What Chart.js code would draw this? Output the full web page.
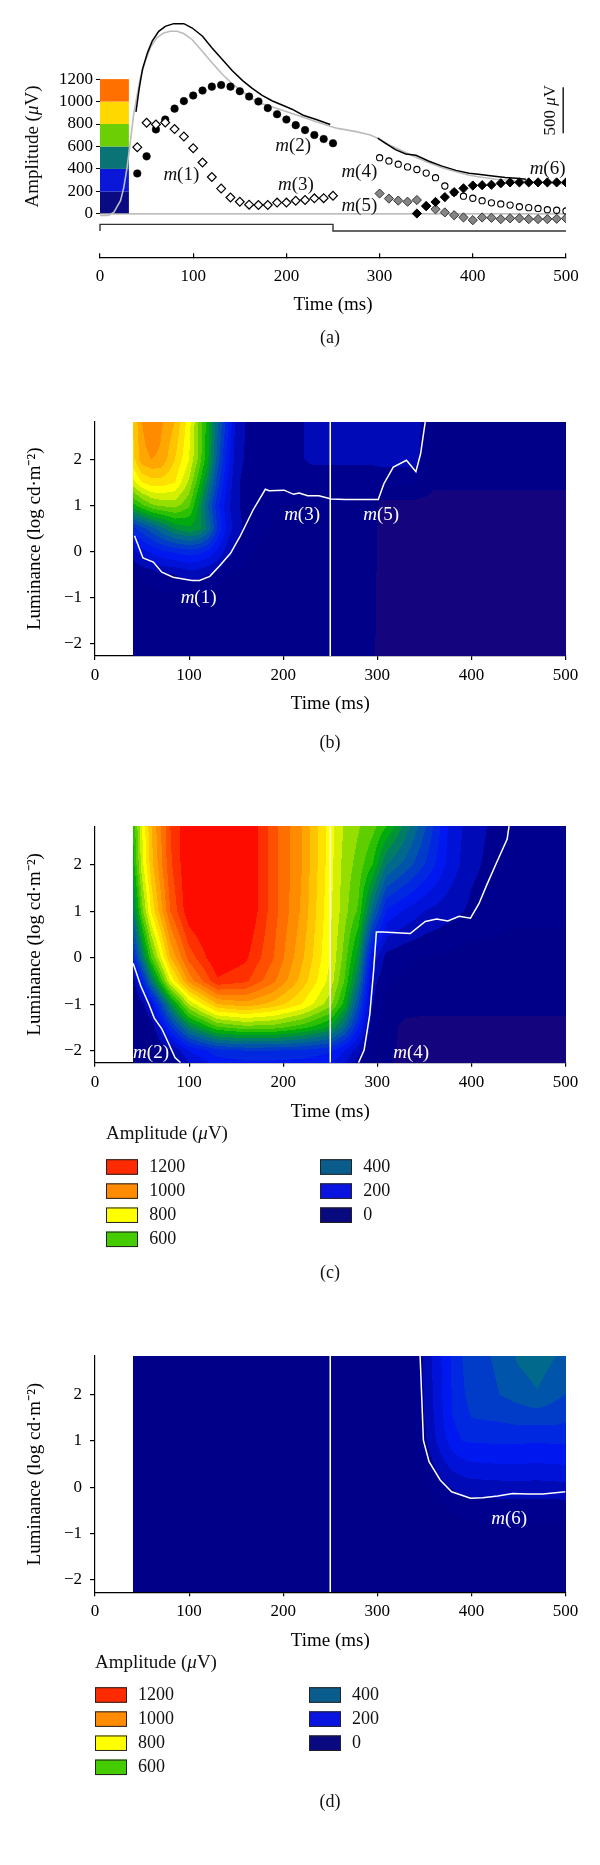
<!DOCTYPE html>
<html>
<head>
<meta charset="utf-8">
<script src="https://cdn.jsdelivr.net/npm/chart.js@4.4.0/dist/chart.umd.min.js"></script>
<style>
body { margin: 0; background: #fff; }
#wrap { position: relative; width: 600px; height: 1865px; }
#wrap canvas { position: absolute; left: 0; top: 0; }
</style>
</head>
<body>
<div id="wrap">
  <canvas id="chartA" width="600" height="1865"></canvas>
  <canvas id="chartB" width="600" height="1865"></canvas>
  <canvas id="chartC" width="600" height="1865"></canvas>
  <canvas id="chartD" width="600" height="1865"></canvas>
</div>
<script>
const SERIF = "'Liberation Serif', 'Times New Roman', serif";

// ---- tick labels
const timeTicks = [0, 100, 200, 300, 400, 500];
const ampTicks = [0, 200, 400, 600, 800, 1000, 1200];
const lumTicks = [-2, -1, 0, 1, 2];

// ---- panel (a): component amplitudes (uV) vs time (ms)
const tEarly = [40, 50, 60, 70, 80, 90, 100, 110, 120, 130, 140, 150, 160, 170, 180, 190, 200, 210, 220, 230, 240, 250];
const m13Amp = [594, 811, 796, 814, 755, 688, 585, 457, 328, 225, 146, 108, 82, 79, 79, 100, 100, 117, 123, 138, 140, 161];
const m2Amp = [360, 512, 752, 840, 937, 1004, 1054, 1098, 1133, 1147, 1133, 1092, 1045, 1001, 942, 887, 840, 790, 746, 702, 667, 629];
const tLate = [300, 310, 320, 330, 340, 350, 360, 370, 380, 390, 400, 410, 420, 430, 440, 450, 460, 470, 480, 490, 500];
const m4Amp = [500, 471, 442, 418, 395, 363, 322, 248, 190, 157, 139, 117, 98, 88, 78, 63, 55, 48, 37, 32, 26];
const m5Amp = [181, 136, 118, 108, 123, 69, 41, 13, -12, -32, -56, -32, -35, -47, -40, -40, -47, -47, -47, -44, -40];
const tM6 = [340, 350, 360, 370, 380, 390, 400, 410, 420, 430, 440, 450, 460, 470, 480, 490, 500];
const m6Amp = [3, 69, 106, 149, 193, 227, 252, 255, 259, 272, 280, 280, 280, 280, 280, 280, 280];

// recorded response (black) and model sum (grey)
const ergT1 = [38.6, 42, 45.6, 51, 56, 63, 70, 79, 90, 99, 110, 120, 131, 142, 153, 163, 174, 185, 196, 206, 218, 232, 247];
const ergAmp1 = [908, 1113, 1289, 1436, 1538, 1626, 1670, 1694, 1694, 1655, 1582, 1480, 1377, 1275, 1187, 1120, 1055, 1005, 967, 932, 878, 840, 796];
const ergT2 = [298, 306, 317, 328, 339, 353, 367, 382, 396, 406, 421, 435, 450, 457];
const ergAmp2 = [674, 630, 572, 533, 522, 469, 425, 387, 361, 352, 337, 323, 314, 308];
const modelT = [0, 9, 15, 18, 22, 25.5, 29, 32.6, 36, 39.8, 43, 48.7, 54, 61, 68.4, 75.5, 82.6, 89.8, 98.7, 109.5, 120, 131, 142, 152.5, 163, 174, 185, 195.7, 206, 218, 232, 247, 255, 275, 290, 298, 310, 325, 339, 353, 367, 382, 396, 411, 425, 439, 454, 472, 490, 500];
const modelAmp = [-15, -15, 15, 59, 117, 234, 410, 644, 879, 1055, 1201, 1362, 1480, 1567, 1611, 1626, 1626, 1606, 1553, 1450, 1348, 1245, 1157, 1090, 1025, 981, 952, 923, 894, 860, 820, 781, 761, 732, 703, 674, 615, 557, 504, 454, 410, 375, 343, 323, 308, 299, 293, 284, 270, 264];
const zeroT = [0, 500];
const zeroAmp = [0, 0];
const stimT = [0, 0, 250, 250, 500];
const stimAmp = [-153, -94, -94, -153, -153];
const scaleBarT = [497, 497];
const scaleBarAmp = [717, 1127];

// colour key at the left of panel (a)
const cbarT = [0, 31];
const cbarLevels = [0, 200, 400, 600, 800, 1000, 1200];
const cbarColors = ['#0a0a82', '#0a16d8', '#0a7376', '#6ccf06', '#ffd800', '#ff7000'];

// ---- contour maps: amplitude (uV) on a time x luminance grid
const timesB = [40, 50, 60, 70, 85, 100, 110, 120, 130, 140, 150, 170, 200, 230, 260, 295, 305, 340, 360, 400, 450, 500];
const lumsB = [-2.27, -1, -0.5, 0, 0.5, 1, 1.5, 2, 2.82];
const ampB = [
  [10, 10, 10, 10, 10, 10, 10, 10, 10, 10, 10, 10, 10, 10, 10, 10, -30, -30, -30, -30, -30, -30],
  [20, 20, 30, 30, 40, 40, 40, 30, 30, 20, 20, 20, 20, 20, 20, 20, -30, -30, -30, -30, -30, -30],
  [40, 60, 70, 90, 100, 120, 115, 100, 80, 50, 40, 30, 20, 20, 20, 20, -30, -30, -30, -30, -30, -30],
  [130, 180, 210, 240, 260, 280, 270, 240, 190, 130, 90, 50, 30, 30, 30, 30, -30, -30, -30, -30, -30, -30],
  [280, 330, 380, 430, 510, 540, 520, 440, 300, 190, 120, 60, 40, 40, 40, 30, -30, -30, -30, -30, -30, -30],
  [580, 640, 690, 710, 720, 660, 540, 400, 270, 170, 110, 60, 50, 50, 50, 40, -20, -20, -20, -20, -20, -20],
  [780, 850, 880, 880, 850, 740, 620, 480, 330, 200, 110, 60, 60, 70, 70, 70, 60, 60, 10, 10, 10, 10],
  [880, 980, 1000, 990, 900, 800, 690, 560, 380, 240, 120, 70, 70, 110, 110, 110, 120, 120, 20, 10, 10, 10],
  [900, 1000, 1050, 1010, 950, 820, 700, 570, 420, 280, 130, 70, 70, 110, 110, 110, 140, 140, 20, 20, 20, 20]
];
const timesC = [40, 50, 60, 80, 100, 130, 160, 190, 220, 250, 265, 280, 295, 310, 330, 350, 375, 400, 450, 500];
const lumsC = [-2.26, -2, -1.5, -1, -0.5, 0, 1, 2, 2.83];
const ampC = [
  [0, 0, 10, 50, 150, 220, 240, 240, 230, 210, 160, 80, 20, 10, -20, -20, -20, -20, -20, -20],
  [0, 10, 30, 90, 200, 280, 300, 300, 290, 260, 200, 120, 40, 20, -20, -20, -20, -20, -20, -20],
  [10, 30, 60, 280, 480, 640, 680, 670, 620, 540, 420, 250, 60, 30, -20, -20, -20, -20, -20, -20],
  [20, 80, 180, 500, 760, 950, 980, 930, 850, 720, 580, 350, 100, 40, 30, 20, 20, 20, 20, 20],
  [60, 250, 450, 800, 1020, 1190, 1160, 1060, 930, 780, 650, 450, 120, 60, 40, 30, 30, 20, 20, 20],
  [250, 450, 650, 950, 1120, 1250, 1210, 1100, 960, 800, 680, 520, 180, 80, 60, 50, 40, 30, 30, 30],
  [450, 680, 860, 1100, 1240, 1300, 1260, 1120, 990, 810, 720, 640, 420, 240, 190, 150, 120, 90, 60, 60],
  [560, 780, 930, 1140, 1250, 1300, 1260, 1120, 1000, 820, 730, 680, 600, 450, 380, 300, 190, 110, 60, 60],
  [600, 800, 950, 1150, 1250, 1300, 1260, 1120, 1000, 820, 745, 705, 670, 600, 480, 360, 200, 120, 60, 60]
];
const timesD = [40, 340, 350, 360, 370, 380, 390, 400, 430, 450, 470, 490, 500];
const lumsD = [-2.27, -1, -0.5, 0, 0.5, 1, 1.5, 2, 2.83];
const ampD = [
  [20, 20, 20, 20, 20, 20, 20, 20, 20, 20, 20, 20, 20],
  [20, 20, 20, 20, 20, 25, 30, 30, 30, 30, 30, 30, 30],
  [20, 20, 25, 30, 40, 55, 62, 68, 70, 70, 70, 70, 72],
  [20, 25, 40, 60, 85, 105, 118, 125, 130, 132, 130, 133, 136],
  [20, 30, 60, 100, 140, 170, 185, 195, 200, 200, 198, 200, 205],
  [20, 35, 85, 140, 185, 225, 250, 255, 258, 258, 255, 258, 258],
  [20, 40, 100, 150, 200, 250, 280, 300, 310, 320, 320, 320, 310],
  [20, 40, 105, 155, 205, 255, 290, 320, 350, 370, 395, 360, 350],
  [20, 40, 110, 160, 210, 260, 300, 330, 360, 410, 430, 400, 360]
];

// white boundary lines (time ms, luminance)
const edgeBT = [42, 51, 62, 71, 83, 103, 111, 122, 132, 144, 154, 168, 181, 185, 201, 211, 217, 226, 238, 251, 266, 301, 307, 317, 331, 341, 346, 351];
const edgeBL = [0.34, -0.14, -0.23, -0.45, -0.56, -0.63, -0.63, -0.54, -0.32, -0.04, 0.32, 0.9, 1.35, 1.32, 1.33, 1.24, 1.27, 1.21, 1.21, 1.14, 1.13, 1.13, 1.47, 1.83, 1.98, 1.73, 2.12, 2.82];
const edgeC1T = [40.5, 48.7, 57, 63, 71, 79, 85, 91];
const edgeC1L = [-0.12, -0.61, -0.99, -1.3, -1.53, -1.88, -2.15, -2.26];
const edgeC2T = [280, 286, 292, 296, 299, 306, 335, 351, 363, 375, 387, 399, 408, 416, 426, 438, 440];
const edgeC2L = [-2.26, -1.99, -1.22, -0.3, 0.55, 0.55, 0.52, 0.78, 0.83, 0.79, 0.89, 0.85, 1.16, 1.55, 2.01, 2.55, 2.83];
const edgeDT = [345.5, 349, 355, 367, 379, 399, 412, 428, 444, 460, 476, 500];
const edgeDL = [2.83, 1.01, 0.55, 0.15, -0.1, -0.24, -0.23, -0.19, -0.14, -0.15, -0.15, -0.1];
const offsetT = [250, 250];

// legend of the maps
const legendLevels = [1200, 1000, 800, 600, 400, 200, 0];
const legendColors = ['#ff2a00', '#ff8c00', '#ffff00', '#44cc00', '#0a5c8c', '#0a14e0', '#0a0a80'];

// filled contour bands, 50 uV wide
const bandLows = [-100, -50, 0, 50, 100, 150, 200, 250, 300, 350, 400, 450, 500, 550, 600, 650, 700, 750, 800, 850, 900, 950, 1000, 1050, 1100, 1150, 1200];
const bandRGB = [
  [26, 4, 122], [20, 4, 126], [0, 0, 136], [0, 0, 142], [0, 10, 182], [0, 18, 215], [0, 24, 240], [0, 40, 225],
  [0, 60, 200], [0, 85, 170], [0, 105, 140], [0, 125, 100], [0, 148, 55], [0, 170, 15], [45, 192, 0], [95, 206, 0],
  [150, 222, 0], [210, 240, 0], [255, 255, 0], [255, 225, 0], [255, 196, 0], [255, 166, 0], [255, 140, 0],
  [255, 110, 0], [255, 80, 0], [255, 48, 0], [255, 12, 0]
];

const pts = (xs, ys) => xs.map((x, i) => ({ x: x, y: ys[i] }));

function locate(arr, v) {
  const n = arr.length;
  if (v <= arr[0]) return [0, 0];
  if (v >= arr[n - 1]) return [n - 2, 1];
  let i = 0;
  while (arr[i + 1] < v) i++;
  return [i, (v - arr[i]) / (arr[i + 1] - arr[i])];
}

function sample(times, lums, grid, t, l) {
  const [i, fx] = locate(times, t);
  const [j, fy] = locate(lums, l);
  const lo = grid[j][i] * (1 - fx) + grid[j][i + 1] * fx;
  const hi = grid[j + 1][i] * (1 - fx) + grid[j + 1][i + 1] * fx;
  return lo * (1 - fy) + hi * fy;
}

function bandColor(v) {
  let k = bandLows.length - 1;
  while (k > 0 && v < bandLows[k]) k--;
  return bandRGB[k];
}

// paints the amplitude map into the plot area, pixel by pixel through the scales
function fieldPlugin(times, lums, grid) {
  return {
    id: 'field',
    beforeDatasetsDraw(chart) {
      const { ctx, chartArea, scales } = chart;
      const x0 = Math.round(scales.x.getPixelForValue(times[0]));
      const x1 = Math.round(chartArea.right);
      const y0 = Math.round(chartArea.top);
      const y1 = Math.round(chartArea.bottom);
      const w = x1 - x0, h = y1 - y0;
      const img = ctx.createImageData(w, h);
      const tv = [];
      for (let px = 0; px < w; px++) tv.push(scales.x.getValueForPixel(x0 + px + 0.5));
      for (let py = 0; py < h; py++) {
        const l = scales.y.getValueForPixel(y0 + py + 0.5);
        for (let px = 0; px < w; px++) {
          const c = bandColor(sample(times, lums, grid, tv[px], l));
          const o = (py * w + px) * 4;
          img.data[o] = c[0]; img.data[o + 1] = c[1]; img.data[o + 2] = c[2]; img.data[o + 3] = 255;
        }
      }
      ctx.putImageData(img, x0, y0);
    }
  };
}

function drawMixed(ctx, parts, x, y, size, align) {
  let total = 0;
  const widths = parts.map(p => {
    ctx.font = (p[1] ? 'italic ' : '') + size + 'px ' + SERIF;
    const w = ctx.measureText(p[0]).width;
    total += w;
    return w;
  });
  let cx = align === 'center' ? x - total / 2 : x;
  ctx.textAlign = 'left';
  ctx.textBaseline = 'middle';
  parts.forEach((p, i) => {
    ctx.font = (p[1] ? 'italic ' : '') + size + 'px ' + SERIF;
    ctx.fillText(p[0], cx, y);
    cx += widths[i];
  });
}

function mLabel(ctx, n, x, y, color, size) {
  ctx.fillStyle = color;
  drawMixed(ctx, [['m', true], ['(' + n + ')', false]], x, y, size, 'left');
}

function labelsPlugin(labels, color, letter, letterY) {
  return {
    id: 'mlabels',
    afterDraw(chart) {
      const { ctx, scales } = chart;
      ctx.save();
      labels.forEach(lb => mLabel(ctx, lb[0], scales.x.getPixelForValue(lb[1]), scales.y.getPixelForValue(lb[2]), color, 19));
      ctx.fillStyle = '#111';
      ctx.font = '18px ' + SERIF;
      ctx.textAlign = 'center';
      ctx.textBaseline = 'middle';
      ctx.fillText(letter, 330, letterY);
      ctx.restore();
    }
  };
}

function legendPlugin(L) {
  return {
    id: 'ampLegend',
    afterDraw(chart) {
      const ctx = chart.ctx;
      ctx.save();
      ctx.fillStyle = '#111';
      drawMixed(ctx, [['Amplitude (', false], ['\u03bc', true], ['V)', false]], L.x, L.titleY, 19, 'left');
      legendLevels.forEach((lv, k) => {
        const col = k < 4 ? 0 : 1;
        const row = k < 4 ? k : k - 4;
        const sx = col ? L.x2 : L.x;
        const sy = L.rowY + row * L.step;
        ctx.fillStyle = legendColors[k];
        ctx.fillRect(sx, sy - L.h / 2, L.w, L.h);
        ctx.strokeStyle = '#222';
        ctx.lineWidth = 1;
        ctx.strokeRect(sx + 0.5, sy - L.h / 2 + 0.5, L.w - 1, L.h - 1);
        ctx.fillStyle = '#111';
        ctx.font = '18px ' + SERIF;
        ctx.textAlign = 'left';
        ctx.textBaseline = 'middle';
        ctx.fillText(String(lv), sx + L.tx, sy);
      });
      ctx.restore();
    }
  };
}

const tickFont = size => ({ family: SERIF, size: size });
const minus = v => String(v).replace('-', '\u2212');

function xAxis(g) {
  return {
    type: 'linear', min: 0, max: 500,
    afterBuildTicks: s => { s.ticks = timeTicks.map(v => ({ value: v })); },
    afterFit: s => { s.height = 62; },
    border: { display: true, color: '#000', width: 1.2 },
    grid: { drawOnChartArea: false, drawTicks: true, tickLength: g.tickLen, color: '#000', lineWidth: 1.2 },
    ticks: { padding: g.labelPad, color: '#000', font: tickFont(17), maxRotation: 0, autoSkip: false, callback: v => String(v) },
    title: { display: true, text: 'Time (ms)', color: '#000', font: tickFont(19), padding: { top: 0, bottom: g.titlePad } }
  };
}

function mapOptions(g) {
  return {
    responsive: false, animation: false, events: [],
    layout: { padding: { left: 0, right: 34.5, top: g.top, bottom: 1865 - g.axisY - 62 } },
    plugins: { legend: { display: false }, tooltip: { enabled: false } },
    scales: {
      x: xAxis(g),
      y: {
        type: 'linear', min: g.ymin, max: g.ymax,
        afterBuildTicks: s => { s.ticks = lumTicks.map(v => ({ value: v })); },
        afterFit: s => { s.width = 95; },
        border: { display: true, color: '#000', width: 1.2 },
        grid: { drawOnChartArea: false, drawTicks: true, tickLength: 5, color: '#000', lineWidth: 1.2 },
        ticks: { padding: 8, color: '#000', font: tickFont(17), callback: minus },
        title: { display: true, text: 'Luminance (log cd\u00b7m\u207b\u00b2)', color: '#000', font: tickFont(19), padding: { top: 23.5, bottom: 0 } }
      }
    }
  };
}

const whiteLine = data => ({ data: data, showLine: true, pointRadius: 0, borderColor: '#fff', borderWidth: 1.5 });

// ---------------- panel (a)
const optsA = {
  responsive: false, animation: false, events: [],
  layout: { padding: { left: 0, right: 34, top: 10, bottom: 1865 - 257.3 - 62 } },
  plugins: { legend: { display: false }, tooltip: { enabled: false } },
  scales: {
    x: xAxis({ tickLen: -4, labelPad: 13.5, titlePad: 2.9 }),
    y: {
      type: 'linear', min: -387, max: 1787,
      afterBuildTicks: s => { s.ticks = ampTicks.map(v => ({ value: v })); },
      afterFit: s => { s.width = 100; },
      border: { display: false },
      grid: { drawOnChartArea: false, drawTicks: true, tickLength: 4, color: '#000', lineWidth: 1 },
      ticks: { padding: 3, color: '#000', font: tickFont(17), callback: v => String(v) }
    }
  }
};

const colorbarPlugin = {
  id: 'colorbar',
  beforeDatasetsDraw(chart) {
    const { ctx, scales } = chart;
    const xa = scales.x.getPixelForValue(cbarT[0]);
    const xb = scales.x.getPixelForValue(cbarT[1]);
    ctx.save();
    cbarColors.forEach((c, i) => {
      const ya = scales.y.getPixelForValue(cbarLevels[i]);
      const yb = scales.y.getPixelForValue(cbarLevels[i + 1]);
      ctx.fillStyle = c;
      ctx.fillRect(xa, yb, xb - xa, ya - yb);
    });
    ctx.restore();
  },
  afterDraw(chart) {
    const { ctx, scales } = chart;
    ctx.save();
    ctx.fillStyle = '#111';
    // y-axis title, centred on the 0-1200 range
    ctx.translate(33, (scales.y.getPixelForValue(0) + scales.y.getPixelForValue(1200)) / 2);
    ctx.rotate(-Math.PI / 2);
    drawMixed(ctx, [['Amplitude (', false], ['\u03bc', true], ['V)', false]], 0, 0, 19, 'center');
    ctx.restore();
    ctx.save();
    ctx.fillStyle = '#111';
    ctx.translate(scales.x.getPixelForValue(scaleBarT[0]) - 13, scales.y.getPixelForValue((scaleBarAmp[0] + scaleBarAmp[1]) / 2));
    ctx.rotate(-Math.PI / 2);
    drawMixed(ctx, [['500 ', false], ['\u03bc', true], ['V', false]], 0, 0, 17, 'center');
    ctx.restore();
  }
};

new Chart(document.getElementById('chartA'), {
  type: 'scatter',
  data: {
    datasets: [
      { label: 'm(6)', data: pts(tM6, m6Amp), pointStyle: 'rectRot', pointRadius: 4.6, backgroundColor: '#000', borderColor: '#000', borderWidth: 1 },
      { label: 'm(1), m(3)', data: pts(tEarly, m13Amp), pointStyle: 'rectRot', pointRadius: 4.4, backgroundColor: '#fff', borderColor: '#000', borderWidth: 1.2 },
      { label: 'm(2)', data: pts(tEarly, m2Amp), pointStyle: 'circle', pointRadius: 3.8, backgroundColor: '#000', borderColor: '#000', borderWidth: 0.5 },
      { label: 'm(5)', data: pts(tLate, m5Amp), pointStyle: 'rectRot', pointRadius: 4.6, backgroundColor: '#858585', borderColor: '#333', borderWidth: 1 },
      { label: 'm(4)', data: pts(tLate, m4Amp), pointStyle: 'circle', pointRadius: 3.1, backgroundColor: '#fff', borderColor: '#000', borderWidth: 1.1 },
      { label: 'ERG a', data: pts(ergT1, ergAmp1), showLine: true, pointRadius: 0, borderColor: '#000', borderWidth: 1.5 },
      { label: 'ERG b', data: pts(ergT2, ergAmp2), showLine: true, pointRadius: 0, borderColor: '#000', borderWidth: 1.5 },
      { label: 'model', data: pts(modelT, modelAmp), showLine: true, pointRadius: 0, borderColor: '#bcbcbc', borderWidth: 1.6 },
      { label: 'zero', data: pts(zeroT, zeroAmp), showLine: true, pointRadius: 0, borderColor: '#a8a8a8', borderWidth: 1.2 },
      { label: 'stimulus', data: pts(stimT, stimAmp), showLine: true, pointRadius: 0, borderColor: '#333', borderWidth: 1.4, clip: false },
      { label: 'scale', data: pts(scaleBarT, scaleBarAmp), showLine: true, pointRadius: 0, borderColor: '#111', borderWidth: 1.4, clip: false }
    ]
  },
  options: optsA,
  plugins: [colorbarPlugin, labelsPlugin([
    [1, 68, 346], [2, 188, 605], [3, 191, 258], [4, 259, 375], [5, 259, 73], [6, 461, 400]
  ], '#111', '(a)', 338)]
});

// ---------------- panel (b)
new Chart(document.getElementById('chartB'), {
  type: 'scatter',
  data: { datasets: [whiteLine(pts(edgeBT, edgeBL)), whiteLine(pts(offsetT, [-2.27, 2.82]))] },
  options: mapOptions({ top: 421.5, axisY: 656.1, ymin: -2.27, ymax: 2.82, tickLen: 4, labelPad: 5.7, titlePad: 2.7 }),
  plugins: [fieldPlugin(timesB, lumsB, ampB), labelsPlugin([[1, 91, -1.0], [3, 201, 0.8], [5, 285, 0.8]], '#fff', '(b)', 743)]
});

// ---------------- panel (c)
new Chart(document.getElementById('chartC'), {
  type: 'scatter',
  data: { datasets: [whiteLine(pts(edgeC1T, edgeC1L)), whiteLine(pts(edgeC2T, edgeC2L)), whiteLine(pts(offsetT, [-2.26, 2.83]))] },
  options: mapOptions({ top: 826.1, axisY: 1062.7, ymin: -2.26, ymax: 2.83, tickLen: 4, labelPad: 5.8, titlePad: 1.6 }),
  plugins: [fieldPlugin(timesC, lumsC, ampC), labelsPlugin([[2, 40.5, -2.06], [4, 317, -2.06]], '#fff', '(c)', 1273.3),
    legendPlugin({ x: 106, x2: 320, titleY: 1134.3, rowY: 1167, step: 24.1, w: 32, h: 15.5, tx: 43.3 })]
});

// ---------------- panel (d)
new Chart(document.getElementById('chartD'), {
  type: 'scatter',
  data: { datasets: [whiteLine(pts(edgeDT, edgeDL)), whiteLine(pts(offsetT, [-2.27, 2.83]))] },
  options: mapOptions({ top: 1356, axisY: 1592.3, ymin: -2.27, ymax: 2.83, tickLen: 4, labelPad: 5.5, titlePad: 1.9 }),
  plugins: [fieldPlugin(timesD, lumsD, ampD), labelsPlugin([[6, 421, -0.68]], '#fff', '(d)', 1802),
    legendPlugin({ x: 95, x2: 309, titleY: 1663, rowY: 1695, step: 24.1, w: 32, h: 15.5, tx: 43 })]
});
</script>
</body>
</html>
